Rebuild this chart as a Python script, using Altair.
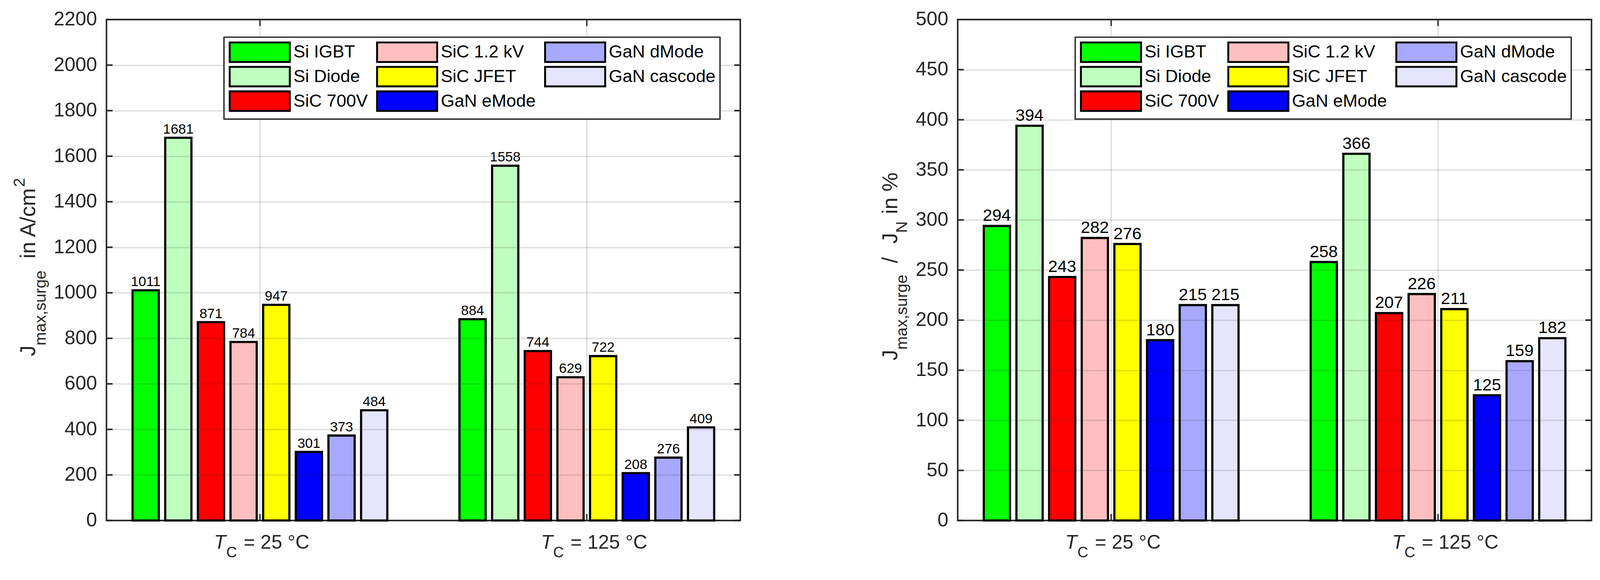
import altair as alt
import pandas as pd

FONT = "Liberation Sans"
AX = "#262626"

# ---------------- data ----------------
devices = ["Si IGBT", "Si Diode", "SiC 700V", "SiC 1.2 kV", "SiC JFET",
           "GaN eMode", "GaN dMode", "GaN cascode"]
device_colors = ["#00FF00", "#BFFFBF", "#FF0000", "#FFBFBF", "#FFFF00",
                 "#0000FF", "#A8A8FF", "#E5E5FF"]
case_temps = ["25", "125"]
surge_density_25 = [1011, 1681, 871, 784, 947, 301, 373, 484]
surge_density_125 = [884, 1558, 744, 629, 722, 208, 276, 409]
surge_ratio_25 = [294, 394, 243, 282, 276, 180, 215, 215]
surge_ratio_125 = [258, 366, 207, 226, 211, 125, 159, 182]
density_ticks = list(range(0, 2201, 200))
ratio_ticks = list(range(0, 501, 50))

W, H = 1656, 1308


def make_panel(v25, v125, ticks, label_size, label_gap, title_parts):
    df = pd.DataFrame({
        "temp": [t for t in case_temps for _ in devices],
        "device": devices * 2,
        "value": v25 + v125,
    })
    tick_df = pd.DataFrame({"value": ticks})
    temp_df = pd.DataFrame({"temp": case_temps,
                            "rest": ["= " + t + " °C" for t in case_temps]})

    x_scale = alt.Scale(domain=case_temps, paddingInner=0.201, paddingOuter=0.070)
    y_scale = alt.Scale(domain=[ticks[0], ticks[-1]], nice=False, zero=False)
    y_axis = alt.Axis(values=ticks, format="d", title=None, labelFont=FONT,
                      labelFontSize=51, labelColor=AX, labelPadding=25, ticks=False,
                      domain=False, grid=True, gridColor=AX, gridOpacity=0.15,
                      gridWidth=3.5, zindex=1, labelOverlap=False)
    x_enc = alt.X("temp:N", scale=x_scale, axis=None)
    off_enc = alt.XOffset("device:N", sort=devices,
                          scale=alt.Scale(paddingInner=0.197, paddingOuter=0.0985))
    y_enc = alt.Y("value:Q", scale=y_scale, axis=y_axis)

    legend = alt.Legend(
        orient="none", legendX=307, legendY=46, title=None, columns=3,
        symbolType="M-3.08,-1H3.08V1H-3.08Z", symbolSize=2601,
        symbolStrokeColor="black", symbolStrokeWidth=5, symbolOffset=54.5,
        symbolOpacity=1,
        labelFont=FONT, labelFontSize=46, labelColor="black", labelOffset=60,
        labelLimit=600, padding=11, rowPadding=-9, columnPadding=13,
        fillColor="white", strokeColor=AX, zindex=2,
    )

    base = alt.Chart(df)
    bars = base.mark_bar(stroke="black", strokeWidth=5.7).encode(
        x=x_enc, xOffset=off_enc, y=y_enc,
        color=alt.Color("device:N",
                        scale=alt.Scale(domain=devices, range=device_colors),
                        legend=legend),
    )
    labels = base.mark_text(font=FONT, fontSize=label_size, color="black",
                            baseline="alphabetic", dy=-label_gap).encode(
        x=x_enc, xOffset=off_enc, y=y_enc, text="value:Q")

    vgrid = alt.Chart(temp_df).mark_rule(color=AX, opacity=0.15, strokeWidth=3.5).encode(
        x=x_enc, y=alt.value(0), y2=alt.value(H))
    xtick_top = alt.Chart(temp_df).mark_rule(color=AX, strokeWidth=3.5).encode(
        x=x_enc, y=alt.value(0), y2=alt.value(17))
    xtick_bot = alt.Chart(temp_df).mark_rule(color=AX, strokeWidth=3.5).encode(
        x=x_enc, y=alt.value(H - 17), y2=alt.value(H))
    ytick_l = alt.Chart(tick_df).mark_rule(color=AX, strokeWidth=4).encode(
        y=y_enc, x=alt.value(0), x2=alt.value(16))
    ytick_r = alt.Chart(tick_df).mark_rule(color=AX, strokeWidth=4).encode(
        y=y_enc, x=alt.value(W - 16), x2=alt.value(W))

    # x category labels: T_C = .. °C
    xl_T = alt.Chart(temp_df).mark_text(font=FONT, fontSize=51, fontStyle="italic",
                                        color=AX, align="left", baseline="alphabetic",
                                        dx=-120).encode(
        x=x_enc, y=alt.value(1382), text=alt.value("T"))
    xl_C = alt.Chart(temp_df).mark_text(font=FONT, fontSize=39, color=AX, align="left",
                                        baseline="alphabetic", dx=-88).encode(
        x=x_enc, y=alt.value(1404), text=alt.value("C"))
    xl_rest = alt.Chart(temp_df).mark_text(font=FONT, fontSize=51, color=AX, align="left",
                                           baseline="alphabetic", dx=-42.5).encode(
        x=x_enc, y=alt.value(1382), text="rest:N")

    layers = [bars, labels, vgrid, xtick_top, xtick_bot, ytick_l, ytick_r,
              xl_T, xl_C, xl_rest]

    # rotated y-axis title composed of pieces (subscripts / superscripts)
    for txt, size, bx, by in title_parts:
        layers.append(
            alt.Chart(pd.DataFrame({"t": [txt]})).mark_text(
                font=FONT, fontSize=size, color=AX, angle=270, align="left",
                baseline="alphabetic").encode(
                text="t:N", x=alt.value(bx), y=alt.value(by)))

    return alt.layer(*layers).properties(width=W, height=H)


left_title = [
    ("J", 56, -186, 879),
    ("max,surge", 42, -159, 851),
    ("in A/cm", 56, -186, 624),
    ("2", 42, -214, 437),
]
right_title = [
    ("J", 56, -158, 890),
    ("max,surge", 42, -132, 862),
    ("/", 56, -158, 636),
    ("J", 56, -158, 585),
    ("N", 42, -132, 557),
    ("in %", 56, -158, 508),
]

left = make_panel(surge_density_25, surge_density_125, density_ticks, 36, 11, left_title)
right = make_panel(surge_ratio_25, surge_ratio_125, ratio_ticks, 44, 13, right_title)

chart = alt.hconcat(left, right, spacing=568, bounds="flush").resolve_scale(
    color="independent"
).properties(
    padding={"left": 20, "top": 0, "right": 10, "bottom": 10},
    background="white",
).configure_view(stroke=AX, strokeWidth=4).configure_legend(strokeWidth=3.5)

chart.save("out.html", embed_options={"renderer": "svg", "actions": False})
